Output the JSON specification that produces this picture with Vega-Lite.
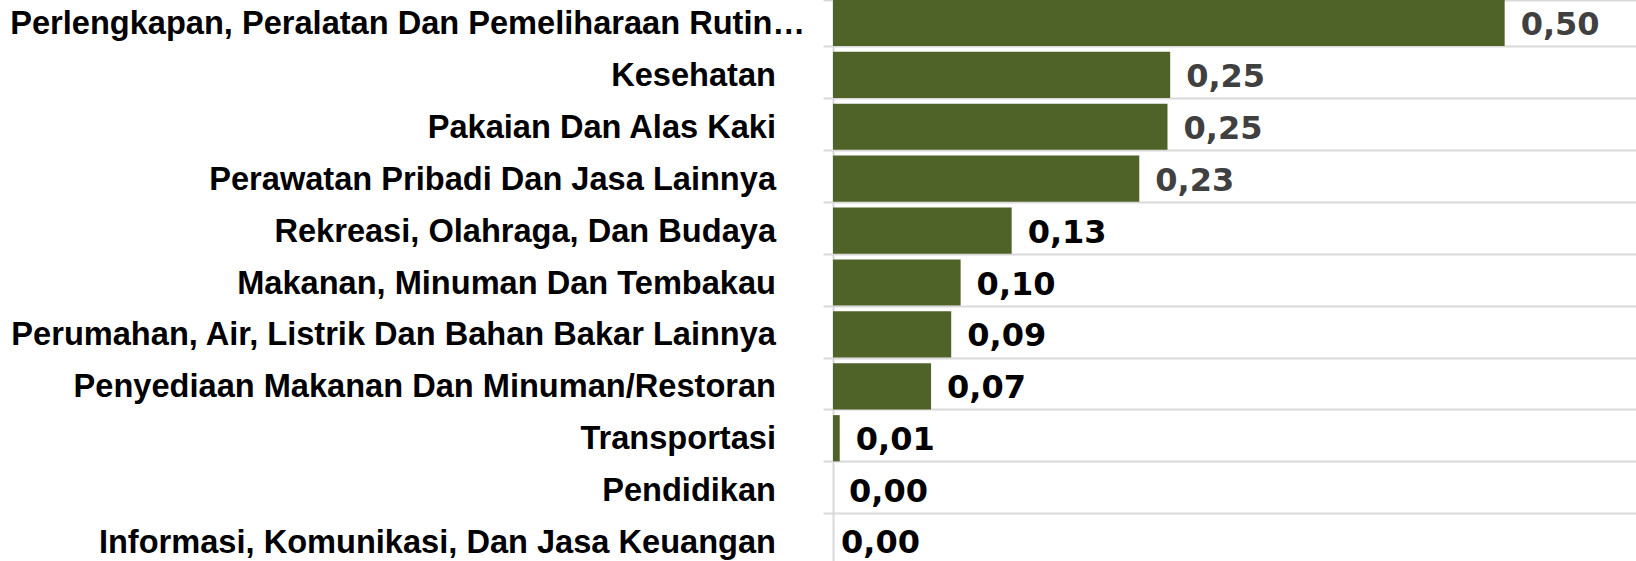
{
  "$schema": "https://vega.github.io/schema/vega-lite/v6.json",
  "autosize": {"type": "none"},
  "width": 806,
  "height": 571,
  "padding": {"left": 833, "top": -3, "right": 0, "bottom": 0},
  "background": "white",
  "data": {
    "values": [
      {"kategori": "Perlengkapan, Peralatan Dan Pemeliharaan Rutin…", "nilai": 0.50, "label": "0,50"},
      {"kategori": "Kesehatan", "nilai": 0.251, "label": "0,25"},
      {"kategori": "Pakaian Dan Alas Kaki", "nilai": 0.249, "label": "0,25"},
      {"kategori": "Perawatan Pribadi Dan Jasa Lainnya", "nilai": 0.228, "label": "0,23"},
      {"kategori": "Rekreasi, Olahraga, Dan Budaya", "nilai": 0.133, "label": "0,13"},
      {"kategori": "Makanan, Minuman Dan Tembakau", "nilai": 0.095, "label": "0,10"},
      {"kategori": "Perumahan, Air, Listrik Dan Bahan Bakar Lainnya", "nilai": 0.088, "label": "0,09"},
      {"kategori": "Penyediaan Makanan Dan Minuman/Restoran", "nilai": 0.073, "label": "0,07"},
      {"kategori": "Transportasi", "nilai": 0.005, "label": "0,01"},
      {"kategori": "Pendidikan", "nilai": 0.0, "label": "0,00"},
      {"kategori": "Informasi, Komunikasi, Dan Jasa Keuangan", "nilai": 0.0, "label": "0,00"}
    ]
  },
  "encoding": {
    "y": {
      "field": "kategori",
      "type": "nominal",
      "sort": null,
      "title": null,
      "scale": {"paddingInner": 0.11, "paddingOuter": 0.055},
      "axis": {
        "domain": true,
        "domainColor": "#d9d9d9",
        "domainWidth": 2,
        "ticks": true,
        "tickBand": "extent",
        "tickSize": 10,
        "tickColor": "#d9d9d9",
        "tickWidth": 2,
        "grid": true,
        "gridColor": "#d9d9d9",
        "gridWidth": 2,
        "labels": false
      }
    },
    "x": {
      "field": "nilai",
      "type": "quantitative",
      "scale": {"domain": [0, 0.6], "nice": false},
      "axis": null
    }
  },
  "layer": [
    {
      "mark": {"type": "bar", "color": "#4F6228"}
    },
    {
      "transform": [{"filter": "datum.kategori != 'Informasi, Komunikasi, Dan Jasa Keuangan'"}],
      "mark": {
        "type": "text",
        "align": "left",
        "baseline": "middle",
        "dx": 16,
        "dy": 2,
        "font": "DejaVu Sans",
        "fontWeight": "bold",
        "fontSize": 32
      },
      "encoding": {
        "text": {"field": "label"},
        "color": {
          "condition": {"test": "datum.nilai > 0.2", "value": "#404040"},
          "value": "#000000"
        }
      }
    },
    {
      "transform": [{"filter": "datum.kategori == 'Informasi, Komunikasi, Dan Jasa Keuangan'"}],
      "mark": {
        "type": "text",
        "align": "left",
        "baseline": "middle",
        "dx": 8,
        "dy": 1,
        "font": "DejaVu Sans",
        "fontWeight": "bold",
        "fontSize": 32,
        "color": "#000000"
      },
      "encoding": {
        "text": {"field": "label"}
      }
    },
    {
      "transform": [{"filter": "indexof(datum.kategori, 'Perlengkapan') != 0"}],
      "mark": {
        "type": "text",
        "align": "right",
        "baseline": "middle",
        "dx": -57,
        "dy": 1,
        "font": "Liberation Sans",
        "fontWeight": "bold",
        "fontSize": 32.6,
        "color": "#000000"
      },
      "encoding": {
        "x": {"datum": 0, "type": "quantitative"},
        "text": {"field": "kategori"}
      }
    },
    {
      "transform": [{"filter": "indexof(datum.kategori, 'Perlengkapan') == 0"}],
      "mark": {
        "type": "text",
        "align": "right",
        "baseline": "middle",
        "dx": -28,
        "dy": 1,
        "font": "Liberation Sans",
        "fontWeight": "bold",
        "fontSize": 32.6,
        "color": "#000000"
      },
      "encoding": {
        "x": {"datum": 0, "type": "quantitative"},
        "text": {"field": "kategori"}
      }
    }
  ],
  "config": {"view": {"stroke": null}}
}
